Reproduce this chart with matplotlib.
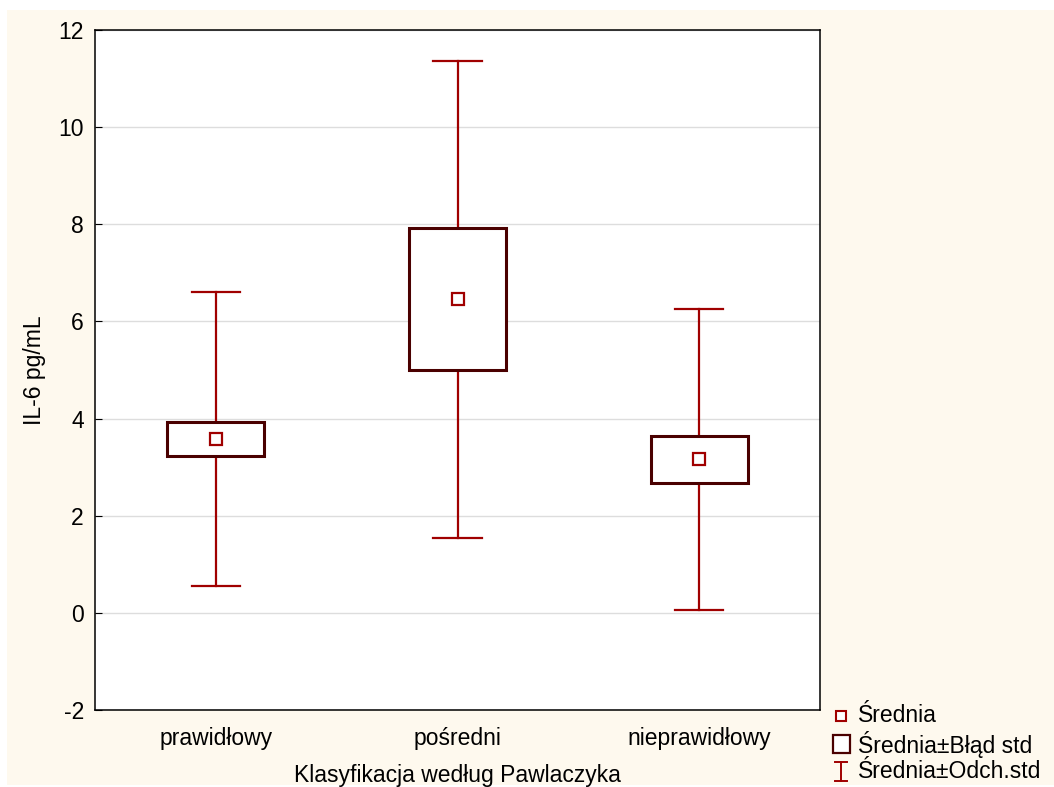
#!/usr/bin/env python3
import matplotlib
matplotlib.use("Agg")
import matplotlib.pyplot as plt
from matplotlib.patches import Rectangle
from matplotlib.lines import Line2D
import numpy as np

plt.rcParams['font.family'] = ['Liberation Sans', 'DejaVu Sans']
plt.rcParams['axes.unicode_minus'] = False

# IL-6 by Pawlaczyk classification
groups = ["prawidłowy", "pośredni", "nieprawidłowy"]
means = [3.57, 6.47, 3.17]
se_low = [3.23, 5.00, 2.68]
se_high = [3.93, 7.93, 3.64]
sd_low = [0.56, 1.55, 0.06]
sd_high = [6.60, 11.37, 6.26]

box_col = "#4a0000"
red = "#a00000"
cream = "#fef9ee"

fig = plt.figure(figsize=(10.54, 7.87), dpi=100, facecolor="white")
bg = Rectangle((7 / 1054, 0.003), 1 - 7 / 1054, 1 - 10 / 787 - 0.003,
               transform=fig.transFigure, facecolor=cream, edgecolor="none", zorder=-10)
fig.add_artist(bg)

ax = fig.add_axes([0.0901, 0.0978, 0.688, 0.8641])
ax.set_facecolor("white")

box_w = 0.4
cap_w = 0.2
x = np.arange(1, len(groups) + 1)
for xi, m, bl, bh, wl, wh in zip(x, means, se_low, se_high, sd_low, sd_high):
    # whiskers (mean +/- std dev)
    ax.plot([xi, xi], [bh, wh], color=red, lw=1.6, zorder=2)
    ax.plot([xi, xi], [wl, bl], color=red, lw=1.6, zorder=2)
    ax.plot([xi - cap_w / 2, xi + cap_w / 2], [wh, wh], color=red, lw=1.6, zorder=2)
    ax.plot([xi - cap_w / 2, xi + cap_w / 2], [wl, wl], color=red, lw=1.6, zorder=2)
    # box (mean +/- std error)
    ax.add_patch(Rectangle((xi - box_w / 2, bl), box_w, bh - bl, facecolor="white",
                           edgecolor=box_col, lw=2.2, zorder=3))
    # mean
    ax.plot(xi, m, marker="s", ms=9, mfc="white", mec=red, mew=1.6, zorder=4)

ax.set_xlim(0.5, 3.5)
ax.set_ylim(-2, 12)
ax.set_yticks(np.arange(-2, 13, 2))
ax.set_xticks(x)
ax.set_xticklabels(groups)
ax.tick_params(axis="both", direction="in", length=5, labelsize=16.5, color="black")
ax.tick_params(axis="x", length=0, pad=12)
ax.tick_params(axis="y", pad=8)
ax.yaxis.grid(True, color="#dddddd", lw=1)
ax.set_axisbelow(True)
for s in ax.spines.values():
    s.set_linewidth(1.1)

ax.set_ylabel("IL-6 pg/mL", fontsize=16.5, labelpad=9)
ax.set_xlabel("Klasyfikacja według Pawlaczyka", fontsize=16.5, labelpad=10)

# legend, drawn in figure pixels
W, H = 1054, 787
def fx(px):
    return px / W
def fy(py):
    return 1 - py / H

fig.add_artist(Line2D([fx(841)], [fy(716)], marker="s", ms=7, mfc="white", mec=red,
                      mew=1.5, transform=fig.transFigure))
fig.add_artist(Rectangle((fx(833), fy(753)), fx(850) - fx(833), fy(735) - fy(753),
                         transform=fig.transFigure, facecolor="white",
                         edgecolor=box_col, lw=1.6))
fig.add_artist(Line2D([fx(841), fx(841)], [fy(762), fy(781)], color=red, lw=1.4,
                      transform=fig.transFigure))
for yy in (762, 781):
    fig.add_artist(Line2D([fx(835), fx(847)], [fy(yy), fy(yy)], color=red, lw=1.4,
                          transform=fig.transFigure))
for label, yy in [("Średnia", 716), ("Średnia±Błąd std", 745), ("Średnia±Odch.std", 772)]:
    fig.text(fx(858), fy(yy), label, fontsize=16.5, va="center", ha="left")

fig.savefig("out.png", dpi=100, facecolor=fig.get_facecolor())
